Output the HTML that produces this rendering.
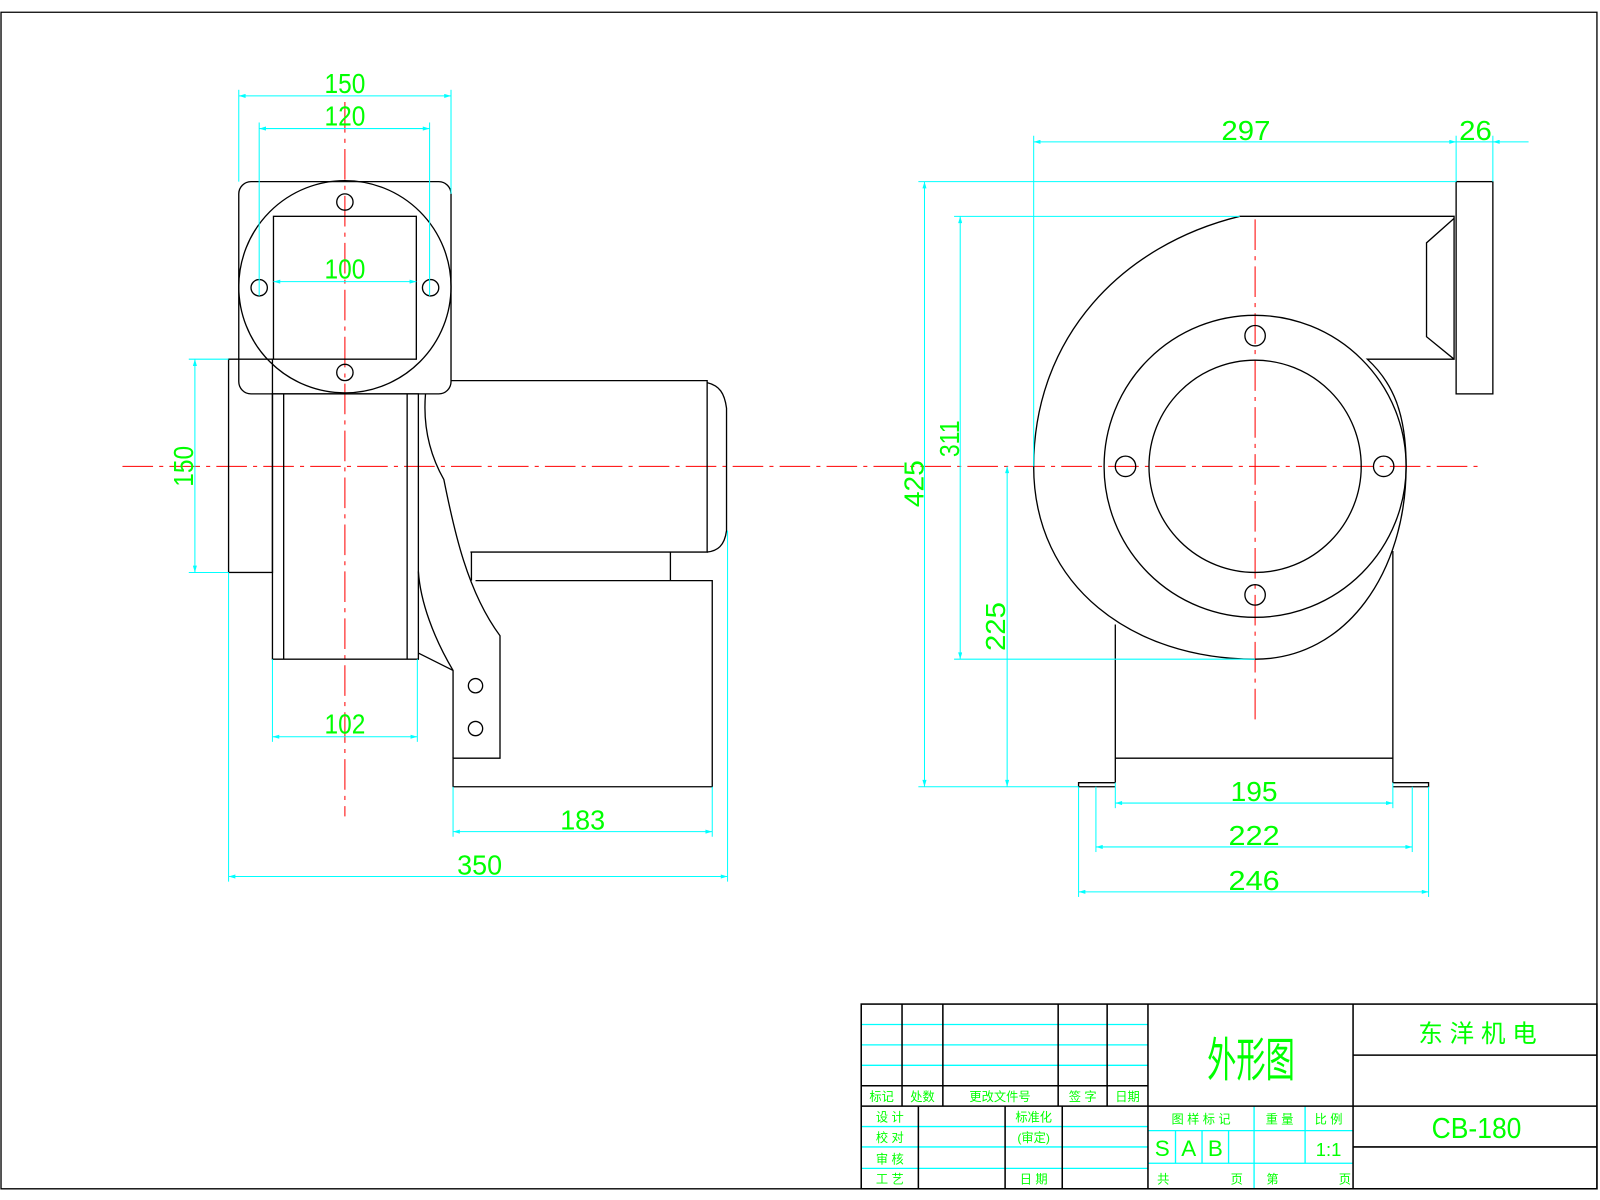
<!DOCTYPE html>
<html><head><meta charset="utf-8"><style>
html,body{margin:0;padding:0;background:#fff;}
svg{display:block}
text{font-family:"Liberation Sans","Noto Sans CJK SC",sans-serif;fill:#00ff00;}
</style></head><body>
<svg width="1600" height="1200" viewBox="0 0 1568 1176" preserveAspectRatio="none" xmlns="http://www.w3.org/2000/svg">
<defs>
<marker id="a" viewBox="0 0 10 6" refX="10" refY="3" markerWidth="10" markerHeight="4" orient="auto-start-reverse" markerUnits="userSpaceOnUse"><path d="M10,3 L0,0 L0,6Z" fill="#00ffff"/></marker>
</defs>
<rect x="0" y="0" width="1568" height="1176" fill="#fff"/>
<path d="M1,12 H1565 V1165 H1 Z" fill="none" stroke="#000" stroke-width="1.3"/>

<g stroke="#ff0000" stroke-width="1" stroke-dasharray="30,6,4,6" fill="none">
<line x1="120" y1="457" x2="1450" y2="457"/>
<line x1="338" y1="100" x2="338" y2="800"/>
<line x1="1230" y1="215" x2="1230" y2="705"/>
</g>

<!-- LEFT VIEW -->
<g stroke="#000" stroke-width="1.3" fill="none">
<rect x="234" y="178" width="208" height="208" rx="12"/>
<circle cx="338" cy="281" r="104"/>
<rect x="268" y="212" width="140" height="140"/>
<circle cx="338" cy="198" r="8"/><circle cx="338" cy="365" r="8"/>
<circle cx="254" cy="282" r="8"/><circle cx="422" cy="282" r="8"/>
<rect x="224" y="352" width="43" height="209"/>
<rect x="267" y="386" width="143" height="260"/>
<line x1="278" y1="386" x2="278" y2="646"/>
<line x1="399" y1="386" x2="399" y2="646"/>
<path d="M442,373 H693 V541 H461"/>
<path d="M693,375 C705,378 710,385 712,400 V520 C710,535 703,540 693,541"/>
<path d="M417,386 C415,410 418,440 435,470 C445,520 458,580 490,623 V743 H444 V771 H698 V569 H466"/>
<line x1="462" y1="541" x2="462" y2="569"/>
<line x1="657" y1="541" x2="657" y2="569"/>
<path d="M410,560 C412,590 425,625 444,657 V743"/>
<line x1="410" y1="640" x2="444" y2="657"/>
<circle cx="466" cy="672" r="7"/><circle cx="466" cy="714" r="7"/>
</g>

<!-- RIGHT VIEW -->
<g stroke="#000" stroke-width="1.3" fill="none">
<path d="M1215,212 C1100,240 1013,330 1013,457 C1013,575 1110,646 1230,646 C1320,646 1378,560 1378,457 C1378,405 1365,375 1340,352 H1425 V212 H1215"/>
<rect x="1427" y="178" width="36" height="208"/>
<path d="M1425,214 L1398,238 V330 L1425,352"/>
<circle cx="1230" cy="457" r="148"/>
<circle cx="1230" cy="457" r="104"/>
<circle cx="1230" cy="329" r="10"/><circle cx="1230" cy="583" r="10"/>
<circle cx="1103" cy="457" r="10"/><circle cx="1356" cy="457" r="10"/>
<line x1="1093" y1="612" x2="1093" y2="767"/>
<line x1="1365" y1="540" x2="1365" y2="767"/>
<line x1="1093" y1="743" x2="1365" y2="743"/>
<path d="M1093,767 H1057 V771 H1093 M1365,767 H1400 V771 H1365"/>
</g>

<!-- DIMENSIONS -->
<g stroke="#00ffff" stroke-width="1" fill="none">
<line x1="234" y1="88" x2="234" y2="178"/><line x1="442" y1="88" x2="442" y2="190"/>
<line x1="254" y1="120" x2="254" y2="290"/><line x1="421" y1="120" x2="421" y2="290"/>
<line x1="185" y1="352" x2="224" y2="352"/><line x1="185" y1="561" x2="224" y2="561"/>
<line x1="267" y1="646" x2="267" y2="727"/><line x1="409" y1="646" x2="409" y2="727"/>
<line x1="444" y1="771" x2="444" y2="820"/><line x1="698" y1="771" x2="698" y2="820"/>
<line x1="224" y1="561" x2="224" y2="864"/><line x1="713" y1="520" x2="713" y2="864"/>
<line x1="234" y1="94" x2="442" y2="94" marker-start="url(#a)" marker-end="url(#a)"/>
<line x1="254" y1="126" x2="421" y2="126" marker-start="url(#a)" marker-end="url(#a)"/>
<line x1="268" y1="276" x2="408" y2="276" marker-start="url(#a)" marker-end="url(#a)"/>
<line x1="191" y1="352" x2="191" y2="561" marker-start="url(#a)" marker-end="url(#a)"/>
<line x1="267" y1="722" x2="409" y2="722" marker-start="url(#a)" marker-end="url(#a)"/>
<line x1="444" y1="815" x2="698" y2="815" marker-start="url(#a)" marker-end="url(#a)"/>
<line x1="224" y1="859" x2="713" y2="859" marker-start="url(#a)" marker-end="url(#a)"/>
<line x1="1013" y1="133" x2="1013" y2="457"/>
<line x1="1427" y1="133" x2="1427" y2="178"/><line x1="1463" y1="133" x2="1463" y2="178"/>
<line x1="900" y1="178" x2="1427" y2="178"/>
<line x1="900" y1="771" x2="1057" y2="771"/>
<line x1="935" y1="212" x2="1215" y2="212"/>
<line x1="935" y1="646" x2="1230" y2="646"/>
<line x1="1093" y1="767" x2="1093" y2="792"/><line x1="1365" y1="767" x2="1365" y2="792"/>
<line x1="1074" y1="771" x2="1074" y2="835"/><line x1="1384" y1="771" x2="1384" y2="835"/>
<line x1="1057" y1="771" x2="1057" y2="879"/><line x1="1400" y1="771" x2="1400" y2="879"/>
<line x1="1013" y1="139" x2="1427" y2="139" marker-start="url(#a)" marker-end="url(#a)"/>
<line x1="1427" y1="139" x2="1463" y2="139"/>
<line x1="1498" y1="139" x2="1463" y2="139" marker-end="url(#a)"/>
<line x1="906" y1="178" x2="906" y2="771" marker-start="url(#a)" marker-end="url(#a)"/>
<line x1="941" y1="212" x2="941" y2="646" marker-start="url(#a)" marker-end="url(#a)"/>
<line x1="987" y1="457" x2="987" y2="771" marker-start="url(#a)" marker-end="url(#a)"/>
<line x1="1093" y1="787" x2="1365" y2="787" marker-start="url(#a)" marker-end="url(#a)"/>
<line x1="1074" y1="830" x2="1384" y2="830" marker-start="url(#a)" marker-end="url(#a)"/>
<line x1="1057" y1="874" x2="1400" y2="874" marker-start="url(#a)" marker-end="url(#a)"/>
</g>
<g font-size="27" text-anchor="middle">
<text x="338" y="91" textLength="40" lengthAdjust="spacingAndGlyphs">150</text>
<text x="338" y="123" textLength="40" lengthAdjust="spacingAndGlyphs">120</text>
<text x="338" y="273" textLength="40" lengthAdjust="spacingAndGlyphs">100</text>
<text x="338" y="719" textLength="40" lengthAdjust="spacingAndGlyphs">102</text>
<text x="571" y="813" textLength="44" lengthAdjust="spacingAndGlyphs">183</text>
<text x="470" y="857" textLength="44" lengthAdjust="spacingAndGlyphs">350</text>
<text transform="translate(189,457) rotate(-90)" textLength="40" lengthAdjust="spacingAndGlyphs">150</text>
<text x="1221" y="137" textLength="48" lengthAdjust="spacingAndGlyphs">297</text>
<text x="1446" y="137" textLength="32" lengthAdjust="spacingAndGlyphs">26</text>
<text transform="translate(905,474) rotate(-90)" textLength="46" lengthAdjust="spacingAndGlyphs">425</text>
<text transform="translate(940,430) rotate(-90)" textLength="36" lengthAdjust="spacingAndGlyphs">311</text>
<text transform="translate(985,614) rotate(-90)" textLength="48" lengthAdjust="spacingAndGlyphs">225</text>
<text x="1229" y="785" textLength="46" lengthAdjust="spacingAndGlyphs">195</text>
<text x="1229" y="828" textLength="50" lengthAdjust="spacingAndGlyphs">222</text>
<text x="1229" y="872" textLength="50" lengthAdjust="spacingAndGlyphs">246</text>
</g>

<!-- TITLE BLOCK -->
<g stroke="#00ffff" stroke-width="1.3">
<line x1="844" y1="1004" x2="1125" y2="1004"/>
<line x1="844" y1="1024" x2="1125" y2="1024"/>
<line x1="844" y1="1044" x2="1125" y2="1044"/>
<line x1="844" y1="1104" x2="1125" y2="1104"/>
<line x1="844" y1="1124" x2="1125" y2="1124"/>
<line x1="844" y1="1145" x2="1125" y2="1145"/>
<line x1="1125" y1="1108" x2="1326" y2="1108"/>
<line x1="1125" y1="1140" x2="1326" y2="1140"/>
<line x1="1229" y1="1084" x2="1229" y2="1165"/>
<line x1="1279" y1="1084" x2="1279" y2="1140"/>
<line x1="1152" y1="1108" x2="1152" y2="1140"/>
<line x1="1178" y1="1108" x2="1178" y2="1140"/>
<line x1="1204" y1="1108" x2="1204" y2="1140"/>
</g>
<g stroke="#000" stroke-width="1.5" fill="none">
<rect x="844" y="984" width="721" height="181"/>
<line x1="884" y1="984" x2="884" y2="1084"/>
<line x1="924" y1="984" x2="924" y2="1084"/>
<line x1="1037" y1="984" x2="1037" y2="1084"/>
<line x1="1085" y1="984" x2="1085" y2="1084"/>
<line x1="844" y1="1064" x2="1125" y2="1064"/>
<line x1="844" y1="1084" x2="1565" y2="1084"/>
<line x1="1125" y1="984" x2="1125" y2="1165"/>
<line x1="1326" y1="984" x2="1326" y2="1165"/>
<line x1="1326" y1="1034" x2="1565" y2="1034"/>
<line x1="1326" y1="1124" x2="1565" y2="1124"/>
<line x1="900" y1="1084" x2="900" y2="1165"/>
<line x1="985" y1="1084" x2="985" y2="1165"/>
<line x1="1041" y1="1084" x2="1041" y2="1165"/>
</g>
<g font-size="12" text-anchor="middle">
<text x="864" y="1079">标记</text><text x="904" y="1079">处数</text><text x="980" y="1079">更改文件号</text>
<text x="1061" y="1079">签 字</text><text x="1105" y="1079">日期</text>
<text x="872" y="1099">设 计</text><text x="872" y="1119">校 对</text><text x="872" y="1140">审 核</text><text x="872" y="1160">工 艺</text>
<text x="1013" y="1099">标准化</text><text x="1013" y="1119">(审定)</text><text x="1013" y="1160">日 期</text>
<text x="1177" y="1101">图 样 标 记</text><text x="1254" y="1101">重 量</text><text x="1302" y="1101">比 例</text>
<text x="1140" y="1160">共</text><text x="1212" y="1160">页</text><text x="1247" y="1160">第</text><text x="1318" y="1160">页</text>
</g>
<g text-anchor="middle">
<text x="1226" y="1055" font-size="46" textLength="86" lengthAdjust="spacingAndGlyphs">外形图</text>
<text x="1448" y="1021" font-size="24">东 洋 机 电</text>
<text x="1447" y="1115" font-size="28" textLength="88" lengthAdjust="spacingAndGlyphs">CB-180</text>
<text x="1139" y="1133" font-size="22">S</text><text x="1165" y="1133" font-size="22">A</text><text x="1191" y="1133" font-size="22">B</text>
<text x="1302" y="1133" font-size="18">1:1</text>
</g>
</svg>
</body></html>
